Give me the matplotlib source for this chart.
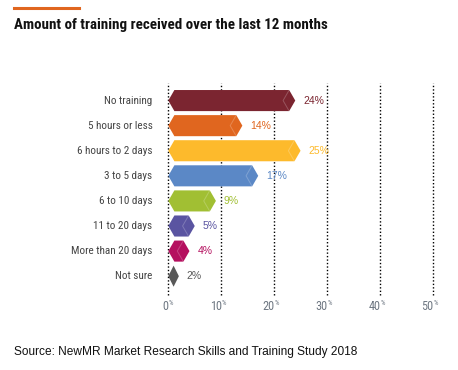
import matplotlib
matplotlib.use("Agg")
import matplotlib.pyplot as plt
from matplotlib.patches import Polygon
from matplotlib import font_manager

categories = ["No training", "5 hours or less", "6 hours to 2 days", "3 to 5 days",
              "6 to 10 days", "11 to 20 days", "More than 20 days", "Not sure"]
values = [24, 14, 25, 17, 9, 5, 4, 2]
colors = ["#7B2530", "#E0661F", "#FDBA2C", "#5B88C6", "#A1BF33", "#5A54A1", "#B5105F", "#585858"]
ticks = [0, 10, 20, 30, 40, 50]

names = {f.name for f in font_manager.fontManager.ttflist}
narrow = "Liberation Sans"
for cand in ["Liberation Sans Narrow", "Roboto Condensed", "Open Sans Condensed",
             "Noto Sans Condensed", "DejaVu Sans Condensed"]:
    if cand in names:
        narrow = cand
        break

W, H = 458, 370
fig = plt.figure(figsize=(W / 100, H / 100), dpi=100)
ax = fig.add_axes([168.3 / W, 1 - 295 / H, (432.8 - 168.3) / W, (295 - 83.5) / H])
ax.set_xlim(0, 50)
ax.set_ylim(7.75, -0.68)
for s in ax.spines.values():
    s.set_visible(False)
ax.set_yticks([])
ax.set_xticks([])

for t in ticks:
    ax.axvline(t, color="black", lw=1.0, ls=(0, (1, 1.5)), zorder=1, clip_on=False)

bh = 0.42
tip = 1.15
for i, (v, c) in enumerate(zip(values, colors)):
    tp = min(tip, v / 2)
    pts = [(0, i), (tp, i - bh), (v - tp, i - bh), (v, i), (v - tp, i + bh), (tp, i + bh)]
    ax.add_patch(Polygon(pts, closed=True, facecolor=c, edgecolor="none", zorder=2))
    if v > 3:
        ax.plot([v - tp, v - 2 * tp, v - tp], [i - bh, i, i + bh], color="white",
                alpha=0.22, lw=0.7, zorder=3)
    ax.text(v + 1.5, i, f"{v}%", color=c, fontsize=7.5, family="Liberation Sans",
            va="center", ha="left", zorder=4)
    ax.text(-3.0, i, categories[i], color="#444444", fontsize=8, family=narrow,
            va="center", ha="right")

for t in ticks:
    ax.annotate(f"{t}", xy=(t, 7.75), xytext=(0.3, -8), textcoords="offset points",
                ha="right", va="center", fontsize=8.8, family=narrow, color="#6E7782",
                annotation_clip=False)
    ax.annotate("%", xy=(t, 7.75), xytext=(0.3, -6.3), textcoords="offset points",
                ha="left", va="center", fontsize=5, family=narrow, color="#6E7782",
                annotation_clip=False)

fig.add_artist(plt.Line2D([14 / W, 79 / W], [1 - 8 / H, 1 - 8 / H], color="#E0661F", lw=2.2))
title = fig.text(14 / W, 1 - 25 / H, "Amount of training received over the last 12 months",
                 fontsize=10.5, fontweight="bold", family=narrow, color="#111111", va="center", ha="left")
src = fig.text(14 / W, 1 - 352 / H, "Source: NewMR Market Research Skills and Training Study 2018",
               fontsize=8, family="Liberation Sans", color="#111111", va="center", ha="left")

# fit text widths to the reference layout
renderer = fig.canvas.get_renderer()
for txt, target, maxsize in [(title, 314, 11), (src, 346, 9)]:
    wpx = txt.get_window_extent(renderer).width
    txt.set_fontsize(min(maxsize, txt.get_fontsize() * target / wpx))

fig.savefig("out.png", dpi=100, facecolor="white")
